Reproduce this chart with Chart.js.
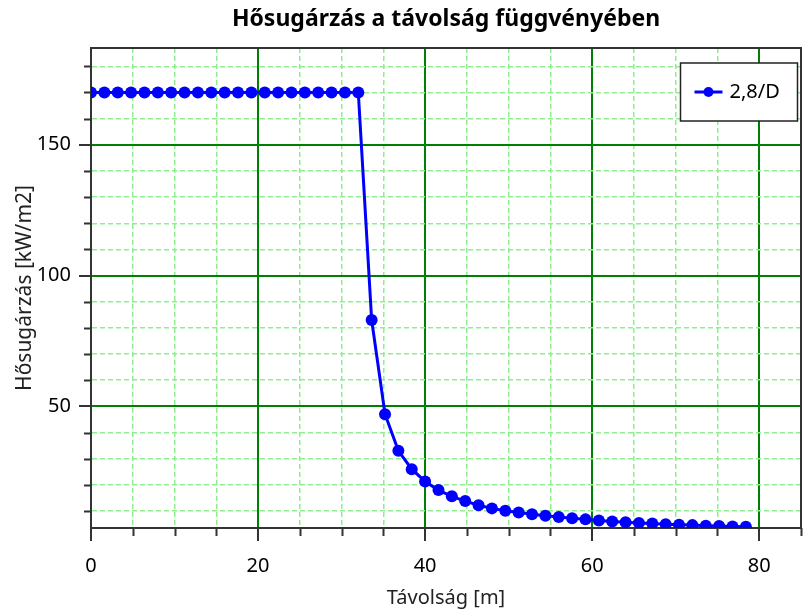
<!DOCTYPE html>
<html>
<head>
<meta charset="utf-8">
<title>Hősugárzás</title>
<script src="https://cdn.jsdelivr.net/npm/chart.js@4.4.0/dist/chart.umd.min.js"></script>
<style>
    html, body { margin: 0; padding: 0; background: #fff; }
    canvas { display: block; }
</style>
</head>
<body>
<canvas id="heatChart" width="803" height="610"></canvas>
<script>
// distance from the source [m]
const distances = [0, 1.6, 3.2, 4.8, 6.4, 8, 9.6, 11.2, 12.8, 14.4,
    16, 17.6, 19.2, 20.8, 22.4, 24, 25.6, 27.2, 28.8, 30.4,
    32, 33.6, 35.2, 36.8, 38.4, 40, 41.6, 43.2, 44.8, 46.4,
    48, 49.6, 51.2, 52.8, 54.4, 56, 57.6, 59.2, 60.8, 62.4,
    64, 65.6, 67.2, 68.8, 70.4, 72, 73.6, 75.2, 76.8, 78.4];

// heat radiation [kW/m2], scenario 2,8/D
const radiation = [170, 170, 170, 170, 170, 170, 170, 170, 170, 170,
    170, 170, 170, 170, 170, 170, 170, 170, 170, 170,
    170, 83, 47, 33, 26, 21.3, 18, 15.6, 13.8, 12.2,
    11, 10.1, 9.4, 8.8, 8.2, 7.7, 7.2, 6.8, 6.4, 6.0,
    5.7, 5.4, 5.2, 4.9, 4.7, 4.6, 4.4, 4.3, 4.1, 4.0];

const seriesLabel = '2,8/D';
const chartTitle = 'Hősugárzás a távolság függvényében';

const xTicks = [0, 5, 10, 15, 20, 25, 30, 35, 40, 45, 50, 55, 60, 65, 70, 75, 80, 85];
const xMajor = [0, 20, 40, 60, 80];
const yTicks = [10, 20, 30, 40, 50, 60, 70, 80, 90, 100, 110, 120, 130, 140, 150, 160, 170, 180];
const yMajor = [50, 100, 150];

const FONT = "'Noto Sans', 'Open Sans', sans-serif";
const MAJOR_GRID = 'rgb(0, 128, 0)';
const MINOR_GRID = '#90ee90';
const AXIS = '#333';

function isMajor(ctx, list) {
    return ctx.tick && list.includes(ctx.tick.value);
}

function gridFor(list, tickLen) {
    return {
        color: ctx => isMajor(ctx, list) ? MAJOR_GRID : MINOR_GRID,
        lineWidth: ctx => isMajor(ctx, list) ? 2 : 1.5,
        tickLength: tickLen,
        tickWidth: 2,
        // minor tick marks are shorter, drawn by the plugin below
        tickColor: ctx => isMajor(ctx, list) ? AXIS : 'rgba(0,0,0,0)'
    };
}

const plotExtras = {
    id: 'plotExtras',
    afterDraw(chart) {
        const { ctx, chartArea: a, scales: { x, y } } = chart;
        ctx.save();

        // top and right edges of the plot box
        ctx.strokeStyle = AXIS;
        ctx.lineWidth = 2;
        ctx.beginPath();
        ctx.moveTo(a.left, a.top);
        ctx.lineTo(a.right, a.top);
        ctx.lineTo(a.right, a.bottom);
        ctx.stroke();

        // short minor tick marks
        ctx.beginPath();
        xTicks.filter(v => !xMajor.includes(v)).forEach(v => {
            const px = Math.round(x.getPixelForValue(v)) + 0.5;
            ctx.moveTo(px, a.bottom);
            ctx.lineTo(px, a.bottom + 8);
        });
        yTicks.filter(v => !yMajor.includes(v)).forEach(v => {
            const py = Math.round(y.getPixelForValue(v)) + 0.5;
            ctx.moveTo(a.left, py);
            ctx.lineTo(a.left - 7, py);
        });
        ctx.stroke();

        // title, centred over the plot area
        ctx.fillStyle = '#000';
        ctx.font = 'bold 23px ' + FONT;
        ctx.textAlign = 'center';
        ctx.textBaseline = 'middle';
        ctx.fillText(chartTitle, (a.left + a.right) / 2, 19);

        // legend box in the upper right corner
        const lw = 117, lh = 58;
        const lx = a.right - 3.5 - lw, ly = a.top + 15;
        ctx.fillStyle = '#fff';
        ctx.fillRect(lx, ly, lw, lh);
        ctx.strokeStyle = '#222';
        ctx.lineWidth = 1.5;
        ctx.strokeRect(lx, ly, lw, lh);

        const ds = chart.data.datasets[0];
        const cy = ly + lh / 2;
        ctx.strokeStyle = ds.borderColor;
        ctx.lineWidth = 3;
        ctx.beginPath();
        ctx.moveTo(lx + 14, cy);
        ctx.lineTo(lx + 42, cy);
        ctx.stroke();
        ctx.fillStyle = ds.borderColor;
        ctx.beginPath();
        ctx.arc(lx + 28, cy, 5, 0, Math.PI * 2);
        ctx.fill();

        ctx.fillStyle = '#000';
        ctx.font = '20px ' + FONT;
        ctx.textAlign = 'left';
        ctx.fillText(ds.label, lx + 49, cy);

        ctx.restore();
    }
};

Chart.defaults.font.family = FONT;
Chart.defaults.color = '#000';

new Chart(document.getElementById('heatChart'), {
    type: 'line',
    data: {
        datasets: [{
            label: seriesLabel,
            data: distances.map((d, i) => ({ x: d, y: radiation[i] })),
            borderColor: '#0000ff',
            backgroundColor: '#0000ff',
            borderWidth: 3,
            pointRadius: 6,
            pointBorderWidth: 0,
            pointHoverRadius: 6,
            tension: 0
        }]
    },
    options: {
        responsive: false,
        animation: false,
        layout: {
            autoPadding: false,
            padding: { top: 48, right: 2, left: 0, bottom: 0 }
        },
        plugins: {
            legend: { display: false },
            title: { display: false },
            tooltip: { enabled: false }
        },
        scales: {
            x: {
                type: 'linear',
                min: 0,
                max: 85,
                afterBuildTicks: s => { s.ticks = xTicks.map(v => ({ value: v })); },
                afterFit: s => {
                    s.height = 82;
                    s.paddingLeft = 0;
                    s.paddingRight = 0;
                },
                ticks: {
                    autoSkip: false,
                    maxRotation: 0,
                    padding: 13,
                    font: { size: 20 },
                    callback: v => xMajor.includes(v) ? String(v) : ''
                },
                grid: gridFor(xMajor, 13),
                border: {
                    color: AXIS,
                    width: 2,
                    dash: ctx => isMajor(ctx, xMajor) || !ctx.tick ? [] : [5, 3]
                },
                title: {
                    display: true,
                    text: 'Távolság [m]',
                    font: { size: 20 },
                    color: '#222',
                    padding: { top: 4, bottom: 0 }
                }
            },
            y: {
                min: 3.5,
                max: 187,
                afterBuildTicks: s => { s.ticks = yTicks.map(v => ({ value: v })); },
                afterFit: s => {
                    s.width = 91;
                    s.paddingTop = 0;
                    s.paddingBottom = 0;
                },
                ticks: {
                    autoSkip: false,
                    padding: 8,
                    font: { size: 20 },
                    callback: v => yMajor.includes(v) ? String(v) : ''
                },
                grid: gridFor(yMajor, 12),
                border: {
                    color: AXIS,
                    width: 2,
                    dash: ctx => isMajor(ctx, yMajor) || !ctx.tick ? [] : [5, 3]
                },
                title: {
                    display: true,
                    text: 'Hősugárzás [kW/m2]',
                    font: { size: 21 },
                    color: '#222',
                    padding: { top: 12, bottom: 0 }
                }
            }
        }
    },
    plugins: [plotExtras]
});
</script>
</body>
</html>
